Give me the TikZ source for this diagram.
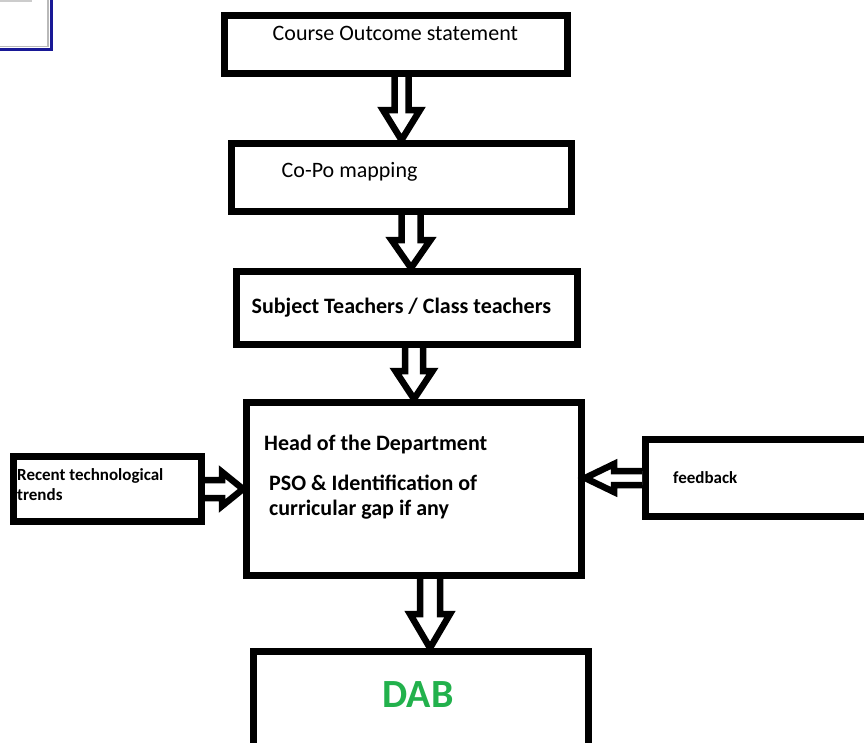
\documentclass[tikz,border=0pt]{standalone}
\usepackage{fontspec}
\setmainfont{Carlito}
\usepackage{tikz}
\usetikzlibrary{positioning, calc}
\definecolor{dabgreen}{RGB}{34,177,76}
\definecolor{winblue}{RGB}{24,24,150}

\begin{document}
\begin{tikzpicture}[x=1pt, y=-1pt,
	box/.style={draw, line width=7pt, inner sep=0pt},
	txt/.style={inner sep=0pt, font=\fontsize{22}{26}\selectfont},
	btxt/.style={inner sep=0pt, align=left, font=\fontsize{22}{25}\selectfont\bfseries},
	stxt/.style={inner sep=0pt, align=left, font=\fontsize{17}{20}\selectfont\bfseries},
	pipe/.style n args={3}{draw, line width=6.5pt, fill=white, to path={
		($(\tikztostart)!#1pt!90:(\tikztotarget)$)
		-- ($(\tikztotarget)!#3pt!(\tikztostart)!#1pt!-90:(\tikztostart)$)
		-- ($(\tikztotarget)!#3pt!(\tikztostart)!#2pt!-90:(\tikztostart)$)
		-- (\tikztotarget)
		-- ($(\tikztotarget)!#3pt!(\tikztostart)!#2pt!90:(\tikztostart)$)
		-- ($(\tikztotarget)!#3pt!(\tikztostart)!#1pt!90:(\tikztostart)$)
		-- ($(\tikztostart)!#1pt!-90:(\tikztotarget)$)}}]
	\useasboundingbox (0,0) rectangle (864,742);
	
	% window corner, top left
	\draw[gray!40, line width=2pt] (0,0.5) -- (32,0.5);
	\draw[gray!55, line width=1.5pt] (-10,-10) rectangle (48,46.5);
	\draw[winblue, line width=3pt] (-10,-10) rectangle (51.5,49.5);
	
	\node[box, minimum width=343pt, minimum height=58pt] (co) at (396,44.5) {};
	\node[box, minimum width=340pt, minimum height=68pt] (copo) at (401.5,177.5) {};
	\node[box, minimum width=341pt, minimum height=73pt] (sub) at (407,308) {};
	\node[box, minimum width=335pt, minimum height=173pt] (hod) at (414,489) {};
	\node[box, minimum width=335pt, minimum height=115pt] (dab) at (421,709) {};
	\node[box, minimum width=188pt, minimum height=65pt] (trend) at (107.5,489) {};
	\node[box, minimum width=256pt, minimum height=77pt] (fb) at (773.5,478) {};
	
	\node[txt, below right=28pt and 51.5pt of co.north west, anchor=base west] (cotext) {Course Outcome statement};
	\node[txt, below right=37pt and 53.5pt of copo.north west, anchor=base west] (copotext) {Co-Po mapping};
	\node[btxt, below right=45.5pt and 18.5pt of sub.north west, anchor=base west] (subtext) {Subject Teachers / Class teachers};
	\node[btxt, below right=51pt and 21pt of hod.north west, anchor=base west] (hodtext) {Head of the Department};
	\node[btxt, below right=116pt and 26pt of hod.north west, anchor=base west] (psotext) {PSO \& Identification of\\curricular gap if any};
	\node[stxt, below right=47pt and 7pt of trend.north west, anchor=base west] (trendtext) {Recent technological\\trends};
	\node[stxt, below right=47pt and 31pt of fb.north west, anchor=base west] (fbtext) {feedback};
	\node[inner sep=0pt, font=\fontsize{40}{48}\selectfont\bfseries, text=dabgreen, below=59pt of dab.north, anchor=base, xshift=-3pt] (dabtext) {DAB};
	
	\draw[pipe={7}{18.5}{30}] (co.south -| copo.north) to (copo.north);
	\draw[pipe={9.5}{19.5}{28}] ([xshift=4pt]copo.south -| sub.north) to ([xshift=4pt]sub.north);
	\draw[pipe={9}{18.5}{28}] (sub.south -| hod.north) to (hod.north);
	\draw[pipe={10}{20}{34}] ([xshift=9pt]hod.south -| dab.north) to ([xshift=9pt]dab.north);
	\draw[pipe={9}{17}{21}] (trend.east) to (trend.east -| hod.west);
	\draw[pipe={7}{14}{29}] (fb.west) to (fb.west -| hod.east);
\end{tikzpicture}
\end{document}
